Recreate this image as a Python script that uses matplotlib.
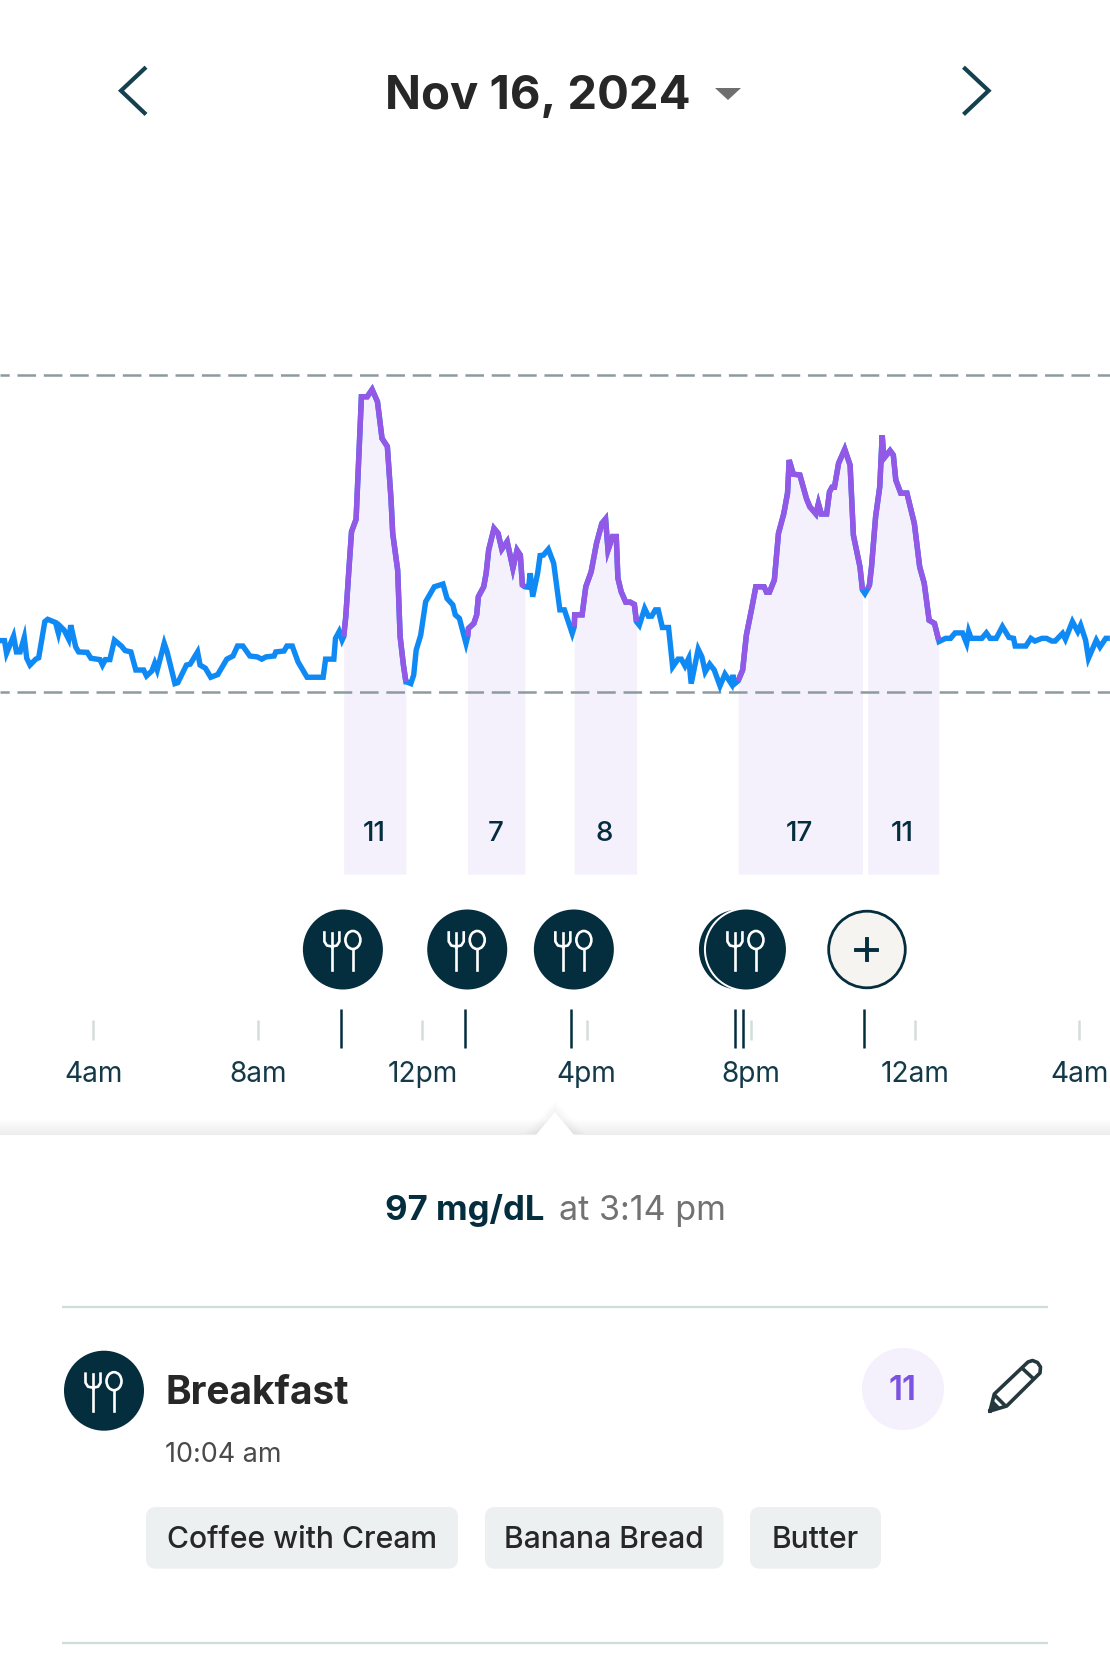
import numpy as np
import matplotlib
matplotlib.use("Agg")
import matplotlib.pyplot as plt
from matplotlib.patches import Circle, FancyBboxPatch, Polygon, Ellipse
from matplotlib.transforms import blended_transform_factory

plt.rcParams['font.family'] = ['Inter', 'DejaVu Sans']

# hours since midnight Nov 16 (24+ is the next day)
hours = [1.73,1.84,1.89,2.06,2.13,2.22,2.32,2.38,2.46,2.60,2.67,2.82,2.89,3.08,3.15,3.19,3.29,3.40,3.45,3.57,
         3.64,3.85,3.94,4.16,4.22,4.29,4.40,4.51,4.68,4.77,4.91,5.03,5.22,5.29,5.42,5.49,5.55,5.72,5.79,5.98,
         6.05,6.26,6.35,6.53,6.59,6.72,6.85,7.02,7.24,7.39,7.50,7.63,7.80,7.98,8.09,8.19,8.39,8.43,8.63,8.70,
         8.83,8.97,9.19,9.58,9.64,9.84,9.88,9.97,10.04,
         10.08,10.13,10.21,10.27,10.38,10.45,10.51,10.65,10.77,10.90,11.01,11.14,11.23,11.27,11.39,11.45,11.53,11.59,
         11.60,11.71,11.78,11.84,11.95,12.07,12.28,12.49,12.59,12.73,12.79,12.89,13.05,
         13.09,13.11,13.24,13.31,13.35,13.48,13.54,13.60,13.73,13.83,13.92,14.05,14.19,14.29,14.37,14.42,14.48,
         14.57,14.61,14.67,14.79,14.85,14.93,15.05,15.18,15.33,15.44,15.63,
         15.68,15.69,15.87,15.96,16.09,16.22,16.35,16.44,16.50,16.61,16.70,16.74,16.82,16.93,17.04,17.14,17.19,
         17.26,17.39,17.48,17.56,17.65,17.72,17.82,17.97,18.07,18.20,18.28,18.37,18.46,18.52,18.69,18.78,18.86,
         18.97,19.08,19.22,19.34,19.50,19.53,19.58,
         19.66,19.77,19.86,19.99,20.09,20.29,20.35,20.42,20.54,20.64,20.77,20.86,20.90,21.00,21.16,21.32,21.40,
         21.55,21.61,21.68,21.81,21.88,21.94,22.00,22.10,22.25,22.38,22.46,22.62,22.68,22.74,
         22.81,22.85,22.90,23.00,23.10,23.16,23.20,23.35,23.43,23.49,23.61,23.76,23.94,24.07,24.18,24.30,24.43,24.53,
         24.54,24.70,24.82,24.93,25.11,25.21,25.26,25.32,25.58,25.69,25.78,25.93,26.08,26.24,26.35,26.39,26.65,
         26.77,26.87,27.04,27.15,27.28,27.36,27.54,27.61,27.78,27.91,27.98,28.10,28.17,28.36,28.45,28.59,28.69]

glucose = [81.3,81.3,78.5,82.3,78.8,78.8,82.0,77.4,75.9,77.2,77.5,85.5,86.0,85.3,82.9,84.5,83.6,81.6,84.7,79.9,
           78.8,78.7,77.4,77.1,75.9,77.1,77.1,81.4,80.1,79.1,78.8,74.8,74.8,73.5,74.6,76.3,74.8,80.7,78.8,71.8,
           72.0,75.9,76.1,78.8,75.9,75.2,73.2,73.8,77.2,77.9,80.1,80.1,77.9,77.7,77.2,77.7,77.9,78.8,79.0,80.1,
           80.1,76.6,73.2,73.2,77.2,77.2,81.8,83.3,81.4,
           82.2,86.6,97.6,105.4,108.1,122.7,135.2,135.2,136.8,134.1,126.0,124.2,112.4,105.0,96.9,82.2,75.9,72.2,
           72.2,71.8,73.7,79.2,82.5,89.9,93.2,93.8,90.6,89.2,87.0,86.2,80.7,
           82.2,84.0,85.1,87.0,91.0,93.2,96.2,101.3,106.1,105.0,101.5,103.2,97.3,101.3,100.2,93.6,93.2,
           93.1,96.2,91.0,96.2,100.1,100.2,101.5,98.4,88.1,88.1,82.9,
           84.4,87.0,87.0,93.2,96.5,102.8,107.2,108.2,101.3,104.3,104.3,95.1,92.1,89.8,89.8,89.3,85.5,
           84.7,88.4,86.7,86.7,88.1,88.1,84.2,84.2,75.5,77.2,77.2,75.7,77.4,71.8,79.4,77.7,74.4,
           76.1,74.8,71.3,73.9,71.7,73.7,71.8,
           72.4,74.8,82.5,88.4,93.2,93.2,92.0,92.0,94.7,105.0,109.4,113.9,121.2,118.1,117.9,112.7,110.9,
           109.3,111.6,109.3,109.3,114.2,115.2,115.2,120.5,123.6,120.1,104.6,97.6,92.5,91.7,
           92.8,93.6,97.6,108.7,115.3,126.7,121.6,123.3,122.3,116.8,113.9,113.9,107.2,97.6,94.0,85.8,85.1,81.4,
           81.1,81.8,81.8,83.0,83.0,80.7,83.3,81.8,81.8,83.0,81.8,81.8,84.4,82.0,81.8,80.1,80.1,
           81.8,81.2,81.8,81.8,81.2,81.2,82.9,81.6,85.5,83.3,84.7,81.4,77.4,81.4,79.9,81.8,81.8]

range_low = 70
range_high = 140

meal_starts = [10.08, 13.09, 15.68, 19.66, 22.81]
meal_ends = [11.59, 14.48, 17.19, 22.68, 24.53]
meal_scores = ['11', '7', '8', '17', '11']

# times of the meal icons and of their ticks under the chart
icon_times = [10.06, 13.08, 15.67, 19.68, 19.85]
add_time = 22.79
meal_ticks = [10.01, 13.03, 15.60, 19.58, 19.78, 22.72]

hour_ticks = [4, 7.99, 11.99, 15.98, 19.97, 23.96, 27.95]
hour_labels = ['4am', '8am', '12pm', '4pm', '8pm', '12am', '4am']

foods = ['Coffee with Cream', 'Banana Bread', 'Butter']

BLUE = '#0f8af5'
PURPLE = '#9458e6'
FILL = '#f4f0fc'
DARK = '#042d3e'
INK = '#272727'

W, H = 1110, 1654
hours = np.array(hours)
glucose = np.array(glucose)

fig = plt.figure(figsize=(W / 100, H / 100), dpi=100, facecolor='white')

# chart axes cover the whole page, time on x and mg/dL on y
ax = fig.add_axes([0, 0, 1, 1])
ax.set_xlim(1.731, 28.693)
ax.set_ylim(-142.7, 222.9)
ax.axis('off')

# page axes in pixels for the app chrome
ui = fig.add_axes([0, 0, 1, 1], zorder=3)
ui.set_xlim(0, W)
ui.set_ylim(H, 0)
ui.axis('off')
ui.patch.set_alpha(0)

time_y = blended_transform_factory(ax.transData, ui.transData)


def t_px(t):
    return (t - 1.731) / (28.693 - 1.731) * W


for start, end, score in zip(meal_starts, meal_ends, meal_scores):
    m = (hours >= start) & (hours <= end)
    ax.fill_between(hours[m], glucose[m], 29.7, color=FILL, lw=0, zorder=1)
    ui.text((t_px(start) + t_px(end)) / 2 - 1, 841, score, ha='center', va='baseline',
            fontsize=20, color=DARK, fontweight='medium')

for level in [range_low, range_high]:
    ax.plot([1.731, 28.693], [level, level], color='#8d9a9f', lw=1.8,
            linestyle=(3.76, (7.44, 3.1)), zorder=2)

ax.plot(hours, glucose, color=BLUE, lw=3.9, solid_joinstyle='miter', solid_capstyle='butt', zorder=3)
for start, end in zip(meal_starts, meal_ends):
    m = (hours >= start) & (hours <= end)
    ax.plot(hours[m], glucose[m], color=PURPLE, lw=3.9, solid_joinstyle='miter',
            solid_capstyle='butt', zorder=4)


def meal_icon(cx, cy, ring=False, glyph=True):
    if ring:
        ui.add_patch(Circle((cx, cy), 42, fc='white', ec='none', zorder=2))
    ui.add_patch(Circle((cx, cy), 40, fc=DARK, ec='none', zorder=2))
    if not glyph:
        return
    lw = 1.9
    fork = cx - 11
    ui.plot([fork, fork], [cy - 3, cy + 20.5], color='white', lw=lw, zorder=3)
    ui.plot([fork - 7.5, fork - 7.5, fork - 5, fork, fork + 5, fork + 7.5, fork + 7.5],
            [cy - 17, cy - 8, cy - 4, cy - 3, cy - 4, cy - 8, cy - 17], color='white', lw=lw, zorder=3)
    ui.plot([fork, fork], [cy - 17, cy - 3], color='white', lw=lw, zorder=3)
    ui.add_patch(Ellipse((cx + 10, cy - 9.5), 15, 18, fc='none', ec='white', lw=lw, zorder=3))
    ui.plot([cx + 10, cx + 10], [cy - 0.5, cy + 20.5], color='white', lw=lw, zorder=3)


icon_y = 949.5
for i, t in enumerate(icon_times):
    # the earlier of the two evening meals sits behind the later one
    meal_icon(t_px(t), icon_y, ring=True, glyph=i != 3)

ax_add = t_px(add_time)
ui.add_patch(Circle((ax_add, icon_y), 38.3, fc='#f6f4f0', ec=DARK, lw=2, zorder=2))
ui.plot([ax_add - 10.5, ax_add + 10.5], [icon_y, icon_y], color=DARK, lw=2.8, zorder=3)
ui.plot([ax_add, ax_add], [icon_y - 10.5, icon_y + 10.5], color=DARK, lw=2.8, zorder=3)

for t, label in zip(hour_ticks, hour_labels):
    ui.plot([t, t], [1020, 1040], color='#d5dcdd', lw=1.8, transform=time_y, solid_capstyle='butt')
    ui.text(t, 1082, label, transform=time_y, ha='center', va='baseline', fontsize=20.2, color='#143a4a')
for t in meal_ticks:
    ui.plot([t, t], [1009, 1048], color=DARK, lw=1.8, transform=time_y, solid_capstyle='butt')

# sheet shadow with the pointer at the selected time
for y in np.arange(1118, 1134):
    g = 1 - (y - 1118) / 16 * 0.075
    ui.plot([0, W], [y + 0.5, y + 0.5], color=(g, g, g), lw=0.8, zorder=1)
ptr = t_px(15.21)
for k in range(12, 0, -1):
    ui.add_patch(Polygon([(ptr - 19 - k, 1134), (ptr, 1112 - k), (ptr + 19 + k, 1134)], fc='#000000',
                         ec='none', alpha=0.004, zorder=1))
ui.add_patch(Polygon([(ptr - 19, 1135), (ptr, 1112), (ptr + 19, 1135)], fc='white', ec='none', zorder=1))

# header
ui.text(538, 108.5, 'Nov 16, 2024', ha='center', va='baseline', fontsize=34, color=INK, fontweight='bold')
ui.add_patch(Polygon([(715, 88), (741, 88), (728, 100)], fc='#6e6e6e', ec='none'))
ui.plot([144.5, 121, 144.5], [68.6, 90.7, 113], color='#15404f', lw=3, solid_joinstyle='miter')
ui.plot([965, 988.6, 965], [68.6, 90.7, 113], color='#15404f', lw=3, solid_joinstyle='miter')

# reading
ui.text(385, 1220, '97 mg/dL', ha='left', va='baseline', fontsize=25, color=DARK, fontweight='bold')
ui.text(559, 1220, 'at 3:14 pm', ha='left', va='baseline', fontsize=24.5, color='#727272')

ui.plot([62, 1048], [1306.7, 1306.7], color='#cfdcdc', lw=1.6, solid_capstyle='butt')
ui.plot([62, 1048], [1643, 1643], color='#cfdcdc', lw=1.6, solid_capstyle='butt')

# meal card
meal_icon(104, 1390.7)
ui.text(166, 1404, 'Breakfast', ha='left', va='baseline', fontsize=28, color=INK, fontweight='bold')
ui.text(165, 1461.7, '10:04 am', ha='left', va='baseline', fontsize=19.4, color='#4a4a4a')
ui.add_patch(Circle((903, 1389), 41, fc=FILL, ec='none'))
ui.text(902, 1400, '11', ha='center', va='baseline', fontsize=24, color='#7c52e0', fontweight='semibold')

pencil = '#25383d'
ui.plot([990, 994.3, 1028, 1032.5, 1037.5, 1040.5, 1040, 1006.7, 990], [1411, 1394, 1362, 1360.5, 1362.5, 1367, 1373, 1406, 1411],
        color=pencil, lw=2.6, solid_joinstyle='round')
ui.plot([1022.3, 1033], [1368.3, 1378.3], color=pencil, lw=2.6)
ui.plot([996, 1004.5], [1396.5, 1405], color=pencil, lw=2.6)
ui.add_patch(Polygon([(990, 1411), (993, 1400), (1000, 1407)], fc=pencil, ec='none'))

chip_left = [146, 485, 750]
chip_right = [458, 723.5, 881]
for left, right, food in zip(chip_left, chip_right, foods):
    ui.add_patch(FancyBboxPatch((left + 10, 1517), right - left - 20, 41.7,
                                boxstyle='round,pad=10,rounding_size=10', fc='#edf0f1', ec='none'))
    ui.text((left + right) / 2, 1548, food, ha='center', va='baseline', fontsize=21.7, color=INK, fontweight='medium')

fig.savefig('out.png', dpi=100)
